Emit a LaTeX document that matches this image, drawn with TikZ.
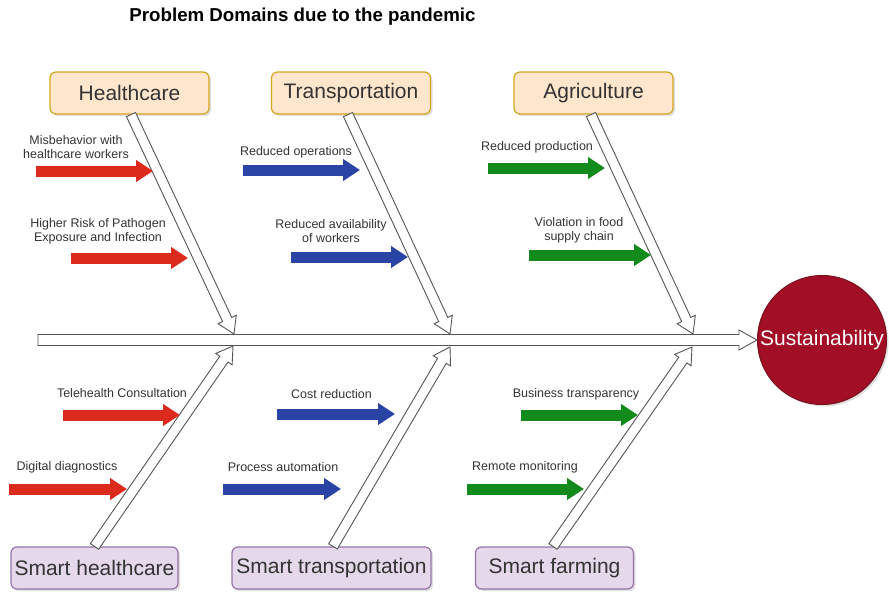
\documentclass[tikz,border=0pt]{standalone}
\usepackage{fontspec}
\setmainfont{Liberation Sans}
\usetikzlibrary{calc,arrows.meta,shadows}

\definecolor{domainfill}{HTML}{FFE6CC}
\definecolor{domainline}{HTML}{D6A520}
\definecolor{smartfill}{HTML}{E4D8EA}
\definecolor{smartline}{HTML}{9673A6}
\definecolor{goalfill}{HTML}{A20E25}
\definecolor{goalline}{HTML}{7A1020}
\definecolor{causered}{HTML}{DC2A1C}
\definecolor{causeblue}{HTML}{2A44A6}
\definecolor{causegreen}{HTML}{138A1C}
\definecolor{darktext}{HTML}{333333}
\definecolor{bonegray}{HTML}{555555}

% hollow block arrow from #1 to #2 (shaft half width #3, head half width #4, head length #5)
\newcommand\hollowarrow[5]{%
  \draw[bone] let \p1=(#1), \p2=(#2),
      \n1={atan2(\y2-\y1,\x2-\x1)},
      \n2={veclen(\x2-\x1,\y2-\y1)-#5} in
    ($(\p1)+(\n1-90:#3)$)
    -- ($(\p1)+(\n1:\n2)+(\n1-90:#3)$)
    -- ($(\p1)+(\n1:\n2)+(\n1-90:#4)$)
    -- (\p2)
    -- ($(\p1)+(\n1:\n2)+(\n1+90:#4)$)
    -- ($(\p1)+(\n1:\n2)+(\n1+90:#3)$)
    -- ($(\p1)+(\n1+90:#3)$) -- cycle;}

\begin{document}
\begin{tikzpicture}[x=1pt,y=-1pt,
  domainbox/.style={draw=domainline, fill=domainfill, rounded corners=6pt,
    line width=1.2pt, minimum width=159pt, minimum height=42pt,
    text=darktext, font=\fontsize{21}{24}\selectfont,
    drop shadow={shadow xshift=2pt, shadow yshift=-2pt, opacity=0.25}},
  smartbox/.style={draw=smartline, fill=smartfill, rounded corners=6pt,
    line width=1.2pt, minimum height=42pt,
    text=darktext, font=\fontsize{21}{24}\selectfont,
    drop shadow={shadow xshift=2pt, shadow yshift=-2pt, opacity=0.25}},
  goalnode/.style={circle, draw=goalline, fill=goalfill, line width=1pt,
    minimum size=129pt, inner sep=0pt, text=white,
    font=\fontsize{21}{24}\selectfont,
    drop shadow={shadow xshift=2pt, shadow yshift=-2pt, opacity=0.25}},
  bone/.style={draw=bonegray, fill=white, line width=0.9pt, line join=miter},
  cause/.style={line width=11pt, -{Triangle[length=17pt,width=21pt]}},
  lbl/.style={text=darktext, align=center, inner sep=0pt,
    font=\fontsize{12.5}{14}\selectfont},
  titletext/.style={font=\bfseries\fontsize{18.7}{21}\selectfont}]

\useasboundingbox (0,0) rectangle (889,594);

% title
\node[titletext] (title) at (302.5,16.5) {Problem Domains due to the pandemic};

% problem domains (top) and smart solutions (bottom)
\node[domainbox] (hc) at (129.5,93) {Healthcare};
\node[domainbox] (tr) at (351,93) {Transportation};
\node[domainbox] (ag) at (593.5,93) {Agriculture};
\node[smartbox, minimum width=167pt] (shc) at (94.5,568) {Smart healthcare};
\node[smartbox, minimum width=199pt] (str) at (331.5,568) {Smart transportation};
\node[smartbox, minimum width=158pt] (sfa) at (554.5,568) {Smart farming};

% goal
\node[goalnode] (sus) at (822,340) {Sustainability};

% spine
\coordinate (tail) at (38,340);
% where the bones meet the spine
\coordinate (j1t) at (234,334);
\coordinate (j2t) at (450,334);
\coordinate (j3t) at (693,334);
\coordinate (j1b) at (233,346);
\coordinate (j2b) at (450,347);
\coordinate (j3b) at (692,347);

\hollowarrow{[xshift=1.5pt]hc.south}{j1t}{5pt}{10pt}{16pt}
\hollowarrow{[xshift=-3pt]tr.south}{j2t}{5pt}{10pt}{16pt}
\hollowarrow{[xshift=-2.5pt]ag.south}{j3t}{5pt}{10pt}{16pt}
\hollowarrow{shc.north}{j1b}{5pt}{10pt}{16pt}
\hollowarrow{[xshift=1.5pt]str.north}{j2b}{5pt}{10pt}{16pt}
\hollowarrow{[xshift=-1.5pt]sfa.north}{j3b}{5pt}{10pt}{16pt}
\hollowarrow{tail}{sus.west}{5.5pt}{10pt}{18pt}

% causes: healthcare
\node[lbl] (l1) at (76,147) {Misbehavior with\\healthcare workers};
\coordinate (a1s) at (36,171); \coordinate (a1e) at (153,171);
\draw[cause, causered] (a1s) -- (a1e);
\node[lbl] (l2) at (98,231) {Higher Risk of Pathogen\\Exposure and Infection};
\coordinate (a2s) at (71,258); \coordinate (a2e) at (188,258);
\draw[cause, causered] (a2s) -- (a2e);

% causes: transportation
\node[lbl] (l3) at (296,152) {Reduced operations};
\coordinate (a3s) at (243,170); \coordinate (a3e) at (360,170);
\draw[cause, causeblue] (a3s) -- (a3e);
\node[lbl] (l4) at (331,231) {Reduced availability\\of workers};
\coordinate (a4s) at (291,257); \coordinate (a4e) at (408,257);
\draw[cause, causeblue] (a4s) -- (a4e);

% causes: agriculture
\node[lbl] (l5) at (537,147) {Reduced production};
\coordinate (a5s) at (488,168); \coordinate (a5e) at (605,168);
\draw[cause, causegreen] (a5s) -- (a5e);
\node[lbl] (l6) at (579,230.5) {Violation in food\\supply chain};
\coordinate (a6s) at (529,255); \coordinate (a6e) at (651,255);
\draw[cause, causegreen] (a6s) -- (a6e);

% enablers: smart healthcare
\node[lbl] (l7) at (122,393) {Telehealth Consultation};
\coordinate (a7s) at (63,415); \coordinate (a7e) at (180,415);
\draw[cause, causered] (a7s) -- (a7e);
\node[lbl] (l8) at (67,467) {Digital diagnostics};
\coordinate (a8s) at (9,489); \coordinate (a8e) at (127,489);
\draw[cause, causered] (a8s) -- (a8e);

% enablers: smart transportation
\node[lbl] (l9) at (331.5,394) {Cost reduction};
\coordinate (a9s) at (277,414); \coordinate (a9e) at (395,414);
\draw[cause, causeblue] (a9s) -- (a9e);
\node[lbl] (l10) at (283,467) {Process automation};
\coordinate (a10s) at (223,489); \coordinate (a10e) at (341,489);
\draw[cause, causeblue] (a10s) -- (a10e);

% enablers: smart farming
\node[lbl] (l11) at (576,394) {Business transparency};
\coordinate (a11s) at (521,415); \coordinate (a11e) at (638,415);
\draw[cause, causegreen] (a11s) -- (a11e);
\node[lbl] (l12) at (525,467) {Remote monitoring};
\coordinate (a12s) at (467,489); \coordinate (a12e) at (584,489);
\draw[cause, causegreen] (a12s) -- (a12e);

\end{tikzpicture}
\end{document}
